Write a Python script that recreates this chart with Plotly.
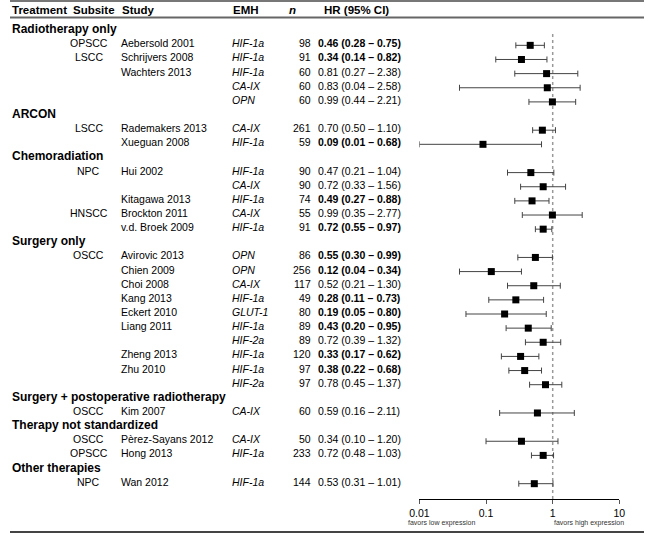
import plotly.graph_objects as go

# ---------------- data ----------------
group_names = [
    "Radiotherapy only",
    "ARCON",
    "Chemoradiation",
    "Surgery only",
    "Surgery + postoperative radiotherapy",
    "Therapy not standardized",
    "Other therapies",
]
row_group = [0] * 5 + [1] * 2 + [2] * 5 + [3] * 10 + [4] + [5] * 2 + [6]
subsite = ["OPSCC", "LSCC", "", "", "",
           "LSCC", "",
           "NPC", "", "", "HNSCC", "",
           "OSCC", "", "", "", "", "", "", "", "", "",
           "OSCC",
           "OSCC", "OPSCC",
           "NPC"]
study = ["Aebersold 2001", "Schrijvers 2008", "Wachters 2013", "", "",
         "Rademakers 2013", "Xueguan 2008",
         "Hui 2002", "", "Kitagawa 2013", "Brockton 2011", "v.d. Broek 2009",
         "Avirovic 2013", "Chien 2009", "Choi 2008", "Kang 2013", "Eckert 2010",
         "Liang 2011", "", "Zheng 2013", "Zhu 2010", "",
         "Kim 2007",
         "Pèrez-Sayans 2012", "Hong 2013",
         "Wan 2012"]
emh = ["HIF-1a", "HIF-1a", "HIF-1a", "CA-IX", "OPN",
       "CA-IX", "HIF-1a",
       "HIF-1a", "CA-IX", "HIF-1a", "CA-IX", "HIF-1a",
       "OPN", "OPN", "CA-IX", "HIF-1a", "GLUT-1", "HIF-1a", "HIF-2a", "HIF-1a", "HIF-1a", "HIF-2a",
       "CA-IX",
       "CA-IX", "HIF-1a",
       "HIF-1a"]
n_pat = [98, 91, 60, 60, 60,
         261, 59,
         90, 90, 74, 55, 91,
         86, 256, 117, 49, 80, 89, 89, 120, 97, 97,
         60,
         50, 233,
         144]
hr = [0.46, 0.34, 0.81, 0.83, 0.99,
      0.70, 0.09,
      0.47, 0.72, 0.49, 0.99, 0.72,
      0.55, 0.12, 0.52, 0.28, 0.19, 0.43, 0.72, 0.33, 0.38, 0.78,
      0.59,
      0.34, 0.72,
      0.53]
ci_lo = [0.28, 0.14, 0.27, 0.04, 0.44,
         0.50, 0.01,
         0.21, 0.33, 0.27, 0.35, 0.55,
         0.30, 0.04, 0.21, 0.11, 0.05, 0.20, 0.39, 0.17, 0.22, 0.45,
         0.16,
         0.10, 0.48,
         0.31]
ci_hi = [0.75, 0.82, 2.38, 2.58, 2.21,
         1.10, 0.68,
         1.04, 1.56, 0.88, 2.77, 0.97,
         0.99, 0.34, 1.30, 0.73, 0.80, 0.95, 1.32, 0.62, 0.68, 1.37,
         2.11,
         1.20, 1.03,
         1.01]
tick_vals = [0.01, 0.1, 1, 10]
tick_text = ["0.01", "0.1", "1", "10"]
headers = ["Treatment", "Subsite", "Study", "EMH", "<i>n</i>", "HR (95% CI)"]

# ---------------- layout helpers ----------------
W, H = 650, 534
FONT = "Liberation Sans, Arial, sans-serif"
ROW0_PX, ROW_PX = 31.2, 14.14      # pixel of first row, pixels per row
AX_PX = 499                        # pixel row of the x-axis line


def hx(X):
    # target pixel column -> figure pixel column (compensates the page's horizontal offset)
    return max(0.0, (X - 12.0) / 0.97)


def px(X):
    return hx(X) / W


def py(p):
    return (H - p) / H


X_DOMAIN = (px(419.1), px(618.0))

# row indices
row_y, group_y = [], []
r, prev = 0, None
for g in row_group:
    if g != prev:
        group_y.append(r)
        r += 1
        prev = g
    row_y.append(r)
    r += 1

y_top = -ROW0_PX / ROW_PX
y_bot = (AX_PX - ROW0_PX) / ROW_PX

fig = go.Figure()
fig.add_trace(go.Scatter(
    x=hr, y=row_y, mode="markers",
    marker=dict(symbol="square", size=7, color="black"),
    error_x=dict(type="data", symmetric=False,
                 array=[h - v for h, v in zip(ci_hi, hr)],
                 arrayminus=[v - l for v, l in zip(hr, ci_lo)],
                 color="#444444", thickness=1, width=3),
    cliponaxis=False, hoverinfo="skip", showlegend=False,
))

ann = []
base = dict(showarrow=False, xref="paper", yref="y", yanchor="middle",
            font=dict(family=FONT, size=10.5, color="black"), yshift=2)

# header row
head_x = [3, 73, 121, 232, 287, 322]
for hxp, ht in zip(head_x, headers):
    ann.append(dict(showarrow=False, xref="paper", yref="paper", x=px(hxp), y=py(10.5),
                    xanchor="left", yanchor="middle", text="<b>%s</b>" % ht,
                    font=dict(family=FONT, size=11.5, color="black")))

# group headers
for gy, gn in zip(group_y, group_names):
    ann.append(dict(base, x=px(3), y=gy, xanchor="left", text="<b>%s</b>" % gn,
                    font=dict(family=FONT, size=12, color="black")))

# study rows
for i, y in enumerate(row_y):
    if subsite[i]:
        ann.append(dict(base, x=px(90.5), y=y, xanchor="center", text=subsite[i]))
    if study[i]:
        ann.append(dict(base, x=px(120), y=y, xanchor="left", text=study[i]))
    ann.append(dict(base, x=px(231), y=y, xanchor="left", text="<i>%s</i>" % emh[i]))
    ann.append(dict(base, x=px(313), y=y, xanchor="right", text=str(n_pat[i])))
    txt = "%.2f (%.2f – %.2f)" % (hr[i], ci_lo[i], ci_hi[i])
    if ci_hi[i] < 1:
        txt = "<b>%s</b>" % txt
    ann.append(dict(base, x=px(316), y=y, xanchor="left", text=txt))

# favors labels
ann.append(dict(showarrow=False, xref="paper", yref="paper", x=px(406), y=py(523),
                xanchor="left", yanchor="middle", text="favors low expression",
                font=dict(family=FONT, size=7, color="#333333")))
ann.append(dict(showarrow=False, xref="paper", yref="paper", x=px(551), y=py(523),
                xanchor="left", yanchor="middle", text="favors high expression",
                font=dict(family=FONT, size=7, color="#333333")))

shapes = [
    dict(type="line", xref="paper", yref="paper", x0=0, x1=1, y0=py(1), y1=py(1),
         line=dict(color="#777777", width=2)),
    dict(type="line", xref="paper", yref="paper", x0=0, x1=1, y0=py(17.5), y1=py(17.5),
         line=dict(color="#666666", width=2)),
    dict(type="line", xref="paper", yref="paper", x0=0, x1=1, y0=py(532), y1=py(532),
         line=dict(color="#444444", width=2)),
    dict(type="line", xref="x", yref="paper", x0=1, x1=1, y0=py(AX_PX), y1=py(32),
         line=dict(color="#999999", width=1.5, dash="dot"), layer="below"),
]

fig.update_layout(
    width=W, height=H, margin=dict(l=0, r=0, t=0, b=0),
    paper_bgcolor="white", plot_bgcolor="white",
    font=dict(family=FONT, size=10.5, color="black"),
    annotations=ann, shapes=shapes, showlegend=False,
    xaxis=dict(type="log", range=[-2, 1], domain=list(X_DOMAIN),
               showline=True, linecolor="black", linewidth=1,
               ticks="outside", ticklen=4, tickcolor="#555555",
               tickvals=tick_vals, ticktext=tick_text,
               tickfont=dict(family=FONT, size=10.5, color="black"),
               showgrid=False, zeroline=False, fixedrange=True),
    yaxis=dict(domain=[py(AX_PX), 1], range=[y_bot, y_top], visible=False,
               showgrid=False, zeroline=False, fixedrange=True),
)

fig.write_html("out.html", post_script="document.body.style.margin='0px';",
               config={"displayModeBar": False, "responsive": False})
